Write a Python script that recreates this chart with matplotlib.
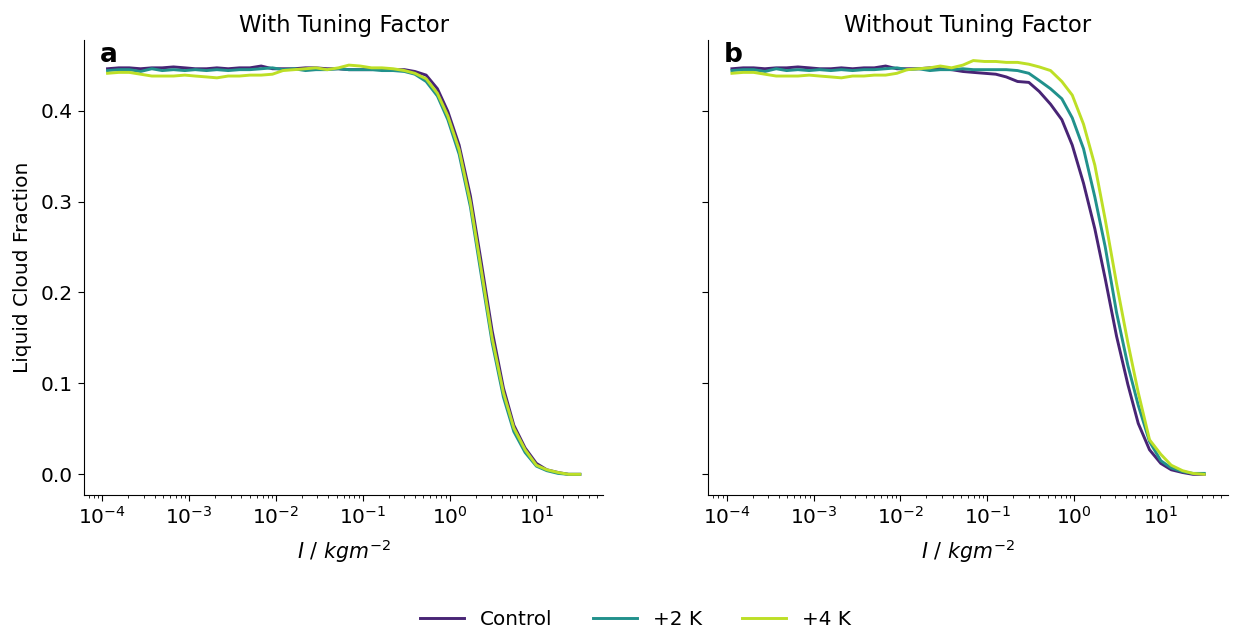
import numpy as np
import matplotlib
matplotlib.use("Agg")
import matplotlib.pyplot as plt

# bin centres (log10 of I, kg m^-2)
log_I = [-3.94, -3.81, -3.69, -3.56, -3.43, -3.31, -3.18, -3.05, -2.93, -2.80,
         -2.68, -2.55, -2.42, -2.30, -2.17, -2.04, -1.92, -1.79, -1.66, -1.54,
         -1.41, -1.28, -1.16, -1.03, -0.90, -0.78, -0.65, -0.52, -0.40, -0.27,
         -0.14, -0.02, 0.11, 0.24, 0.36, 0.49, 0.62, 0.74, 0.87, 1.00,
         1.12, 1.25, 1.37, 1.50]

series_names = ["Control", "+2 K", "+4 K"]
colors = ["#482475", "#21918c", "#bddf26"]
panel_titles = ["With Tuning Factor", "Without Tuning Factor"]
panel_letters = ["a", "b"]

# Panel a: with tuning factor
a_control = [0.446, 0.447, 0.447, 0.446, 0.447, 0.447, 0.448, 0.447, 0.446, 0.446,
             0.447, 0.446, 0.447, 0.447, 0.449, 0.446, 0.446, 0.446, 0.447, 0.447,
             0.446, 0.446, 0.445, 0.445, 0.445, 0.446, 0.445, 0.445, 0.443, 0.439,
             0.424, 0.399, 0.362, 0.306, 0.236, 0.158, 0.095, 0.054, 0.029, 0.012,
             0.005, 0.002, 0.000, 0.000]
a_plus2 = [0.444, 0.445, 0.445, 0.443, 0.446, 0.444, 0.445, 0.444, 0.445, 0.444,
           0.445, 0.444, 0.445, 0.445, 0.446, 0.447, 0.445, 0.446, 0.444, 0.445,
           0.445, 0.446, 0.445, 0.445, 0.445, 0.444, 0.444, 0.443, 0.440, 0.432,
           0.416, 0.390, 0.352, 0.294, 0.222, 0.145, 0.085, 0.047, 0.024, 0.009,
           0.004, 0.001, 0.000, 0.000]
a_plus4 = [0.441, 0.442, 0.442, 0.440, 0.438, 0.438, 0.438, 0.439, 0.438, 0.437,
           0.436, 0.438, 0.438, 0.439, 0.439, 0.440, 0.444, 0.445, 0.446, 0.447,
           0.445, 0.447, 0.450, 0.449, 0.447, 0.447, 0.446, 0.444, 0.441, 0.435,
           0.419, 0.394, 0.357, 0.299, 0.228, 0.150, 0.090, 0.051, 0.027, 0.010,
           0.005, 0.002, 0.000, 0.000]

# Panel b: without tuning factor
b_control = [0.446, 0.447, 0.447, 0.446, 0.447, 0.447, 0.448, 0.447, 0.446, 0.446,
             0.447, 0.446, 0.447, 0.447, 0.449, 0.446, 0.446, 0.446, 0.447, 0.446,
             0.445, 0.443, 0.442, 0.441, 0.440, 0.437, 0.432, 0.431, 0.421, 0.407,
             0.390, 0.362, 0.320, 0.270, 0.215, 0.152, 0.099, 0.056, 0.027, 0.012,
             0.005, 0.002, 0.000, 0.000]
b_plus2 = [0.444, 0.445, 0.445, 0.443, 0.446, 0.444, 0.445, 0.444, 0.445, 0.444,
           0.445, 0.444, 0.445, 0.445, 0.446, 0.447, 0.445, 0.446, 0.444, 0.445,
           0.445, 0.446, 0.445, 0.445, 0.445, 0.445, 0.444, 0.441, 0.433, 0.424,
           0.413, 0.392, 0.358, 0.305, 0.250, 0.178, 0.120, 0.076, 0.036, 0.015,
           0.007, 0.003, 0.001, 0.001]
b_plus4 = [0.441, 0.442, 0.442, 0.440, 0.438, 0.438, 0.438, 0.439, 0.438, 0.437,
           0.436, 0.438, 0.438, 0.439, 0.439, 0.441, 0.445, 0.446, 0.447, 0.449,
           0.447, 0.450, 0.455, 0.454, 0.454, 0.453, 0.453, 0.451, 0.448, 0.444,
           0.432, 0.417, 0.385, 0.340, 0.280, 0.210, 0.145, 0.090, 0.038, 0.022,
           0.010, 0.004, 0.001, 0.000]

panels = [[a_control, a_plus2, a_plus4], [b_control, b_plus2, b_plus4]]
I_vals = 10.0 ** np.array(log_I)

plt.rcParams["font.family"] = ["DejaVu Sans"]
plt.rcParams["mathtext.fontset"] = "dejavusans"

fig = plt.figure(figsize=(12.34, 6.33), dpi=100)
ax1 = fig.add_axes([0.068, 0.218, 0.421, 0.719])
ax2 = fig.add_axes([0.574, 0.218, 0.421, 0.719], sharey=ax1)
axes = [ax1, ax2]

for k, ax in enumerate(axes):
    for name, col, vals in zip(series_names, colors, panels[k]):
        ax.plot(I_vals, vals, color=col, lw=2.1, label=name)
    ax.set_xscale("log")
    ax.set_title(panel_titles[k], fontsize=16.4)
    ax.set_xlabel(r"$I\ /\ kgm^{-2}$", fontsize=14.8, labelpad=7)
    ax.spines["top"].set_visible(False)
    ax.spines["right"].set_visible(False)
    ax.tick_params(axis="both", which="major", labelsize=14.5, length=4.5)
    ax.tick_params(axis="x", which="minor", length=2.5)
    ax.text(0.03, 0.995, panel_letters[k], transform=ax.transAxes,
            fontsize=19, fontweight="bold", va="top", ha="left")

ax1.set_yticks([0.0, 0.1, 0.2, 0.3, 0.4])
ax1.set_ylabel("Liquid Cloud Fraction", fontsize=14.5, labelpad=6)
plt.setp(ax2.get_yticklabels(), visible=False)

handles, labels = ax1.get_legend_handles_labels()
fig.legend(handles, labels, loc="lower center", ncol=3, frameon=False,
           fontsize=14.4, bbox_to_anchor=(0.515, -0.022), columnspacing=2.0,
           handlelength=2.2)

fig.savefig("out.png", dpi=100)
